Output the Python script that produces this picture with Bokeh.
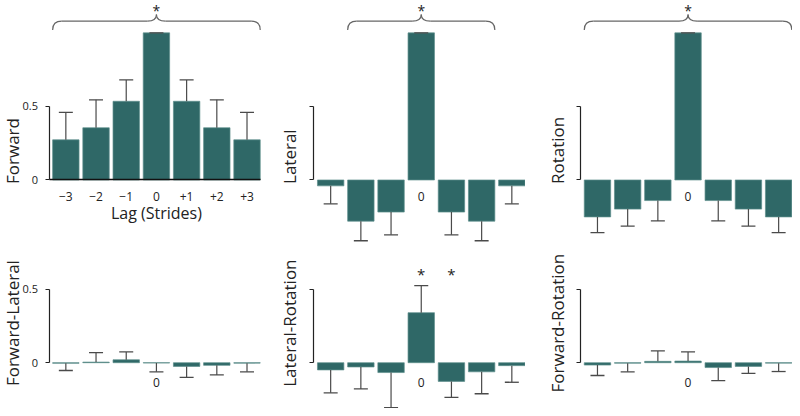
import math
from bokeh.plotting import figure
from bokeh.models import Range1d, LinearAxis, FixedTicker, Label, ColumnDataSource
from bokeh.layouts import column, row
from bokeh.embed import file_html
from bokeh.resources import INLINE

# ---------------- data ----------------
LAG_LABELS = ["\u22123", "\u22122", "\u22121", "0", "+1", "+2", "+3"]
LAG_INDEX = [0, 1, 2, 3, 4, 5, 6]

forward = [0.273, 0.355, 0.535, 1.0, 0.535, 0.355, 0.273]
forward_err = [0.187, 0.19, 0.145, 0.0, 0.145, 0.19, 0.187]

lateral = [-0.04, -0.28, -0.218, 1.0, -0.218, -0.28, -0.04]
lateral_err = [0.122, 0.133, 0.155, 0.0, 0.155, 0.133, 0.122]

rotation = [-0.251, -0.198, -0.14, 1.0, -0.14, -0.198, -0.251]
rotation_err = [0.107, 0.115, 0.138, 0.0, 0.138, 0.115, 0.107]

fwd_lat = [-0.004, 0.004, 0.02, -0.002, -0.025, -0.018, -0.003]
fwd_lat_err = [0.049, 0.064, 0.053, 0.06, 0.075, 0.065, 0.059]

lat_rot = [-0.049, -0.029, -0.067, 0.34, -0.127, -0.062, -0.02]
lat_rot_err = [0.156, 0.149, 0.238, 0.184, 0.109, 0.149, 0.113]

fwd_rot = [-0.016, -0.003, 0.009, 0.011, -0.033, -0.025, -0.003]
fwd_rot_err = [0.071, 0.059, 0.071, 0.062, 0.089, 0.048, 0.057]

# significance markers
BRACE_SPANS = {"Forward": (0, 6), "Lateral": (1, 5), "Rotation": (0, 6)}
LAT_ROT_STARS = [3, 4]

# ---------------- style / layout ----------------
FONT = "Open Sans"
TXT = "#222222"
BAR_COLOR = "#2f6867"
BAR_EDGE = "#5e8f8c"
ERR_COLOR = "#4a4a4a"
SX, SY = 792 / 800, 408 / 416
PITCH = 30.5 * SX       # px per lag
SCALE = 150.0 * SY      # px per unit
BAR_W = 0.875

TOP_H, BOT_H = 247, 161
TOP_ZERO, BOT_ZERO = 183 * SY, 369.3 * SY - 247
WIDTHS = [267, 258, 267]
X0 = [66 * SX, 333.5 * SX - 267, 603 * SX - 525]
AXIS_X = [-0.5246, -0.5738, -0.557]
YLAB_X = [-1.75, -1.377, -1.328]


def brace(p, i0, i1):
    xl, xr = i0 - BAR_W / 2, i1 + BAR_W / 2
    xc = (i0 + i1) / 2
    r = 0.3
    yh, yl, ya = 1.02, 1.08, 1.125
    kw = dict(line_color="#666666", line_width=1.2)
    p.quadratic(x0=[xl, xc + r, xr, xc - r], y0=[yh, yl, yh, yl],
                x1=[xl + r, xc, xr - r, xc], y1=[yl, ya, yl, ya],
                cx=[xl, xc, xr, xc], cy=[yl, yl, yl, yl], **kw)
    p.segment(x0=[xl + r, xc + r], y0=[yl, yl], x1=[xc - r, xr - r], y1=[yl, yl], **kw)
    p.add_layout(Label(x=xc, y=1.216, text="*", text_align="center", text_baseline="top",
                       text_font=FONT, text_font_size="14px", text_color=TXT))


def panel(col, top, vals, errs, name, full_labels=False, show_y_labels=False):
    w = WIDTHS[col]
    h = TOP_H if top else BOT_H
    zero = TOP_ZERO if top else BOT_ZERO
    x0 = X0[col]
    p = figure(width=w, height=h,
               x_range=Range1d(-x0 / PITCH, (w - x0) / PITCH),
               y_range=Range1d(-(h - zero) / SCALE, zero / SCALE),
               output_backend="svg", toolbar_location=None,
               x_axis_location=None, y_axis_location=None,
               min_border=0, min_border_left=0, min_border_right=0,
               min_border_top=0, min_border_bottom=0,
               outline_line_color=None, background_fill_color="white",
               border_fill_color="white")
    p.grid.grid_line_color = None

    ends = [v + (e if v >= 0 else -e) for v, e in zip(vals, errs)]
    src = ColumnDataSource(dict(x=LAG_INDEX, v=vals, e=ends))
    p.vbar(x="x", top="v", bottom=0, width=BAR_W, source=src,
           fill_color=BAR_COLOR, line_color=BAR_EDGE, line_width=0.7)
    p.segment(x0="x", y0="v", x1="x", y1="e", source=src,
              line_color=ERR_COLOR, line_width=1.2)
    p.scatter(x="x", y="e", source=src, marker="dash", size=14,
              line_color=ERR_COLOR, line_width=1.3)

    # y axis (scale bar 0..0.5)
    ya = LinearAxis(fixed_location=AXIS_X[col], ticker=FixedTicker(ticks=[0, 0.5]),
                    bounds=(0, 0.5), axis_line_color=TXT, axis_line_width=1.2,
                    major_tick_line_color=TXT, major_tick_line_width=1.2,
                    major_tick_out=4, major_tick_in=0, minor_tick_out=0, minor_tick_in=0,
                    major_label_standoff=8, major_label_text_font=FONT,
                    major_label_text_font_size="11px", major_label_text_color=TXT)
    if show_y_labels:
        ya.major_label_overrides = {0: "0", 0.5: "0.5"}
    else:
        ya.major_label_overrides = {0: "", 0.5: ""}
    p.add_layout(ya, "left")

    # x axis
    if full_labels:
        xa = LinearAxis(fixed_location=0, ticker=FixedTicker(ticks=LAG_INDEX),
                        bounds=(AXIS_X[col], 6.46),
                        major_label_overrides={i: t for i, t in zip(LAG_INDEX, LAG_LABELS)},
                        axis_line_color="#111111", axis_line_width=1.6)
    else:
        xa = LinearAxis(fixed_location=0, ticker=FixedTicker(ticks=[3]),
                        major_label_overrides={3: LAG_LABELS[3]},
                        axis_line_color=None)
    xa.major_tick_out = 0
    xa.major_tick_in = 0
    xa.minor_tick_out = 0
    xa.minor_tick_in = 0
    xa.major_label_standoff = 12 if top else 15
    xa.major_label_text_font = FONT
    xa.major_label_text_font_size = "12px"
    xa.major_label_text_color = TXT
    p.add_layout(xa, "below")

    # row label
    if top:
        lab = Label(x=YLAB_X[col], y=-0.027, text=name, angle=math.pi / 2,
                    text_align="left", text_baseline="middle")
    else:
        lab = Label(x=YLAB_X[col], y=0.269, text=name, angle=math.pi / 2,
                    text_align="center", text_baseline="middle")
    lab.text_font = FONT
    lab.text_font_size = "17px"
    lab.text_color = TXT
    p.add_layout(lab)
    return p


f1 = panel(0, True, forward, forward_err, "Forward", full_labels=True, show_y_labels=True)
brace(f1, *BRACE_SPANS["Forward"])
f1.add_layout(Label(x=3, y=-0.227, text="Lag (Strides)", text_align="center",
                    text_baseline="middle", text_font=FONT, text_font_size="16px",
                    text_color=TXT))

f2 = panel(1, True, lateral, lateral_err, "Lateral")
brace(f2, *BRACE_SPANS["Lateral"])

f3 = panel(2, True, rotation, rotation_err, "Rotation")
brace(f3, *BRACE_SPANS["Rotation"])

f4 = panel(0, False, fwd_lat, fwd_lat_err, "Forward-Lateral", show_y_labels=True)
f5 = panel(1, False, lat_rot, lat_rot_err, "Lateral-Rotation")
for i in LAT_ROT_STARS:
    f5.add_layout(Label(x=i, y=0.669, text="*", text_align="center", text_baseline="top",
                        text_font=FONT, text_font_size="15px", text_color=TXT))
f6 = panel(2, False, fwd_rot, fwd_rot_err, "Forward-Rotation")

layout = column(row(f1, f2, f3), row(f4, f5, f6))
open("out.html", "w").write(file_html(layout, INLINE))
